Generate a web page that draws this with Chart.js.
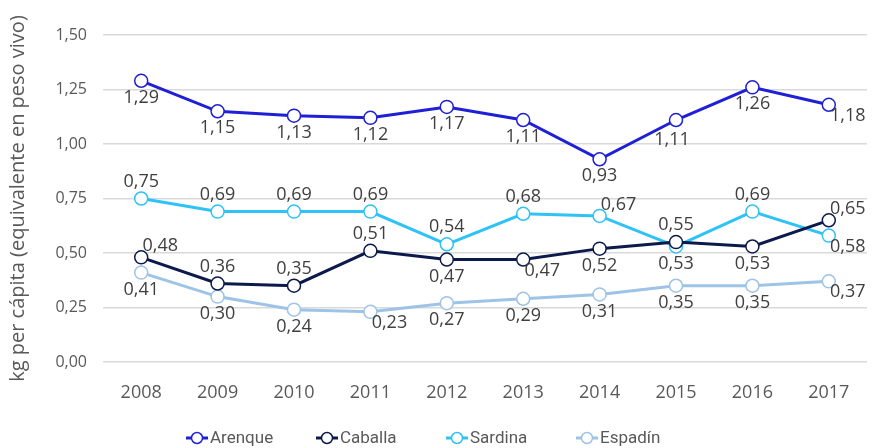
<!DOCTYPE html>
<html>
<head>
<meta charset="utf-8">
<script src="https://cdn.jsdelivr.net/npm/chart.js@4/dist/chart.umd.min.js"></script>
<style>
  html, body { margin: 0; padding: 0; background: #fff; }
  #wrap { width: 875px; height: 448px; }
</style>
</head>
<body>
<div id="wrap"><canvas id="fishChart" width="875" height="448"></canvas></div>
<script>
let years = ['2008', '2009', '2010', '2011', '2012', '2013', '2014', '2015', '2016', '2017'];
let arenque = [1.29, 1.15, 1.13, 1.12, 1.17, 1.11, 0.93, 1.11, 1.26, 1.18];
let caballa = [0.48, 0.36, 0.35, 0.51, 0.47, 0.47, 0.52, 0.55, 0.53, 0.65];
let sardina = [0.75, 0.69, 0.69, 0.69, 0.54, 0.68, 0.67, 0.53, 0.69, 0.58];
let espadin = [0.41, 0.30, 0.24, 0.23, 0.27, 0.29, 0.31, 0.35, 0.35, 0.37];

// where each value label sits relative to its point (t = top, b = below, r/l = shifted)
let arenqueAlign = ['b', 'b', 'b', 'b', 'b', 'b', 'b', 'bl', 'b', 'br'];
let caballaAlign = ['tr', 't', 't', 't', 'b', 'br', 'b', 't', 'b', 'tr'];
let sardinaAlign = ['t', 't', 't', 't', 't', 't', 'tr', 'b', 't', 'br'];
let espadinAlign = ['b', 'b', 'b', 'br', 'b', 'b', 'b', 'b', 'b', 'br'];

let fontFam = "'Open Sans', 'Noto Sans', sans-serif";
let legendFam = "'Roboto', sans-serif";

function fmt(v) {
  return v.toFixed(2).replace('.', ',');
}

function makeSet(label, data, color, align) {
  return {
    label: label,
    data: data,
    borderColor: color,
    backgroundColor: '#fff',
    borderWidth: 3,
    pointRadius: 6.5,
    pointHoverRadius: 6.5,
    pointBorderWidth: 1.5,
    pointBackgroundColor: '#fff',
    pointBorderColor: color,
    tension: 0,
    labelAlign: align
  };
}

let valueLabels = {
  id: 'valueLabels',
  afterDatasetsDraw(chart) {
    let ctx = chart.ctx;
    ctx.save();
    ctx.font = '18px ' + fontFam;
    ctx.fillStyle = '#404040';
    ctx.textAlign = 'center';
    ctx.textBaseline = 'middle';
    chart.data.datasets.forEach(function (ds, di) {
      let meta = chart.getDatasetMeta(di);
      meta.data.forEach(function (pt, i) {
        let a = ds.labelAlign[i];
        let dx = 0, dy = 17;
        if (a === 't') { dy = -17; }
        if (a === 'tr') { dx = 19; dy = -11; }
        if (a === 'br') { dx = 19; dy = 11; }
        if (a === 'bl') { dx = -4; dy = 20; }
        ctx.fillText(fmt(ds.data[i]), pt.x + dx, pt.y + dy);
      });
    });
    ctx.restore();
  }
};

// legend with line + open circle marker, fixed item spacing
let lineLegend = {
  id: 'lineLegend',
  afterDraw(chart) {
    let ctx = chart.ctx;
    let y = 438;
    ctx.save();
    ctx.font = '17px ' + legendFam;
    ctx.textBaseline = 'middle';
    ctx.textAlign = 'left';
    chart.data.datasets.forEach(function (ds, i) {
      let x = 186 + i * 130;
      ctx.strokeStyle = ds.borderColor;
      ctx.lineWidth = 3;
      ctx.beginPath(); ctx.moveTo(x, y); ctx.lineTo(x + 22, y); ctx.stroke();
      ctx.fillStyle = '#fff';
      ctx.lineWidth = 1.5;
      ctx.beginPath(); ctx.arc(x + 11, y, 5.5, 0, Math.PI * 2); ctx.fill(); ctx.stroke();
      ctx.fillStyle = '#595959';
      ctx.fillText(ds.label, x + 24, y + 1);
    });
    ctx.restore();
  }
};

let ctx = document.getElementById('fishChart').getContext('2d');
let fishChart = new Chart(ctx, {
  type: 'line',
  data: {
    labels: years,
    datasets: [
      makeSet('Arenque', arenque, '#1f1fd6', arenqueAlign),
      makeSet('Caballa', caballa, '#0c1a4b', caballaAlign),
      makeSet('Sardina', sardina, '#2ec2f6', sardinaAlign),
      makeSet('Espadín', espadin, '#9dc3e6', espadinAlign)
    ]
  },
  options: {
    responsive: false,
    animation: false,
    layout: { padding: { top: 35, right: 2, left: 6, bottom: 46 } },
    plugins: {
      tooltip: { enabled: false },
      legend: { display: false }
    },
    scales: {
      x: {
        offset: true,
        grid: { display: false },
        border: { display: false },
        ticks: { color: '#595959', font: { family: fontFam, size: 18 }, padding: 12 },
        afterFit(scale) { scale.height = 40; }
      },
      y: {
        min: 0,
        max: 1.5,
        afterFit(scale) { scale.width = 97; },
        ticks: {
          stepSize: 0.25,
          color: '#595959',
          padding: 16,
          font: { family: fontFam, size: 16 },
          callback: function (v) { return fmt(v); }
        },
        grid: { color: '#d9d9d9', lineWidth: 1.5, drawTicks: false },
        border: { display: false },
        title: {
          display: true,
          text: 'kg per cápita (equivalente en peso vivo)',
          color: '#595959',
          font: { family: fontFam, size: 20 },
          padding: 0
        }
      }
    }
  },
  plugins: [valueLabels, lineLegend]
});
</script>
</body>
</html>
